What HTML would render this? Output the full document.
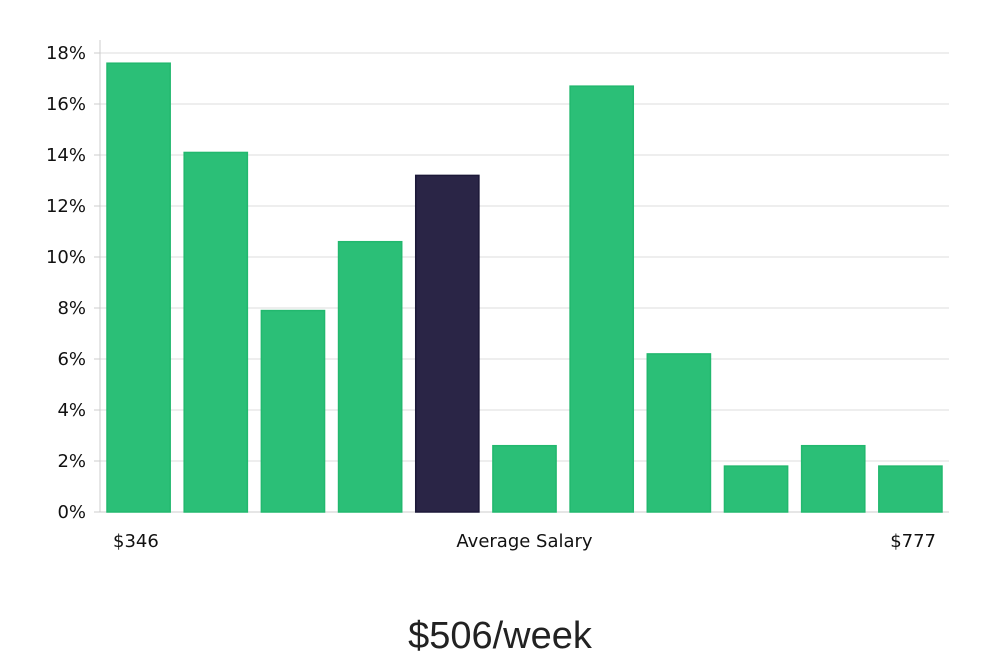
<!DOCTYPE html>
<html><head><meta charset="utf-8"><style>
body{margin:0;background:#fff;width:1000px;height:660px;overflow:hidden;font-family:"DejaVu Sans","Liberation Sans",sans-serif}
</style></head><body>
<svg width="1000" height="660" id="c">
<text x="500" y="648" text-anchor="middle" font-size="38" font-family="Liberation Sans, sans-serif" fill="#222">$506/week</text>
</svg>
<script>
const categories=["b1","b2","b3","b4","b5","b6","b7","b8","b9","b10","b11"];
const values=[17.6,14.1,7.9,10.6,13.2,2.6,16.7,6.2,1.8,2.6,1.8];
const highlight=[0,0,0,0,1,0,0,0,0,0,0];
const yTicks=[0,2,4,6,8,10,12,14,16,18];
const xLabels=[["$346",0,"start"],["Average Salary",5,"middle"],["$777",10,"end"]];
const svg=document.getElementById('c');const NS="http://www.w3.org/2000/svg";
const L=100,R=949,Y0=512,Y18=53;
const y=v=>Y0-(v/18)*(Y0-Y18);
const step=(R-L)/categories.length;
const x=i=>L+i*step+7;const bw=step-14;
function mk(t,a,p){const e=document.createElementNS(NS,t);for(const k in a)e.setAttribute(k,a[k]);(p||svg).appendChild(e);return e;}
yTicks.forEach(t=>{
const g=mk('line',{x1:L,x2:R,y1:y(t),y2:y(t),stroke:t?'#dcdcdc':'#ccc','stroke-width':1});


const tk=mk('line',{x1:L-6,x2:L,y1:y(t),y2:y(t),stroke:'#ccc'});


const tx=mk('text',{x:L-14,y:y(t)+6,'text-anchor':'end','font-size':18,fill:'#111'});tx.textContent=t+'%';


});
const ax=mk('line',{x1:L,x2:L,y1:40,y2:Y0,stroke:'#ccc'});


values.forEach((v,i)=>{
const h=highlight[i];
const b=mk('rect',{x:x(i),y:y(v),width:bw,height:Y0-y(v),fill:h?'#2a2546':'#2bbf77',stroke:h?'#1c1838':'#22b86e','stroke-width':1.5});


});
xLabels.forEach(([s,i,a])=>{
const px=a==='start'?x(i)+6:a==='end'?x(i)+bw-6:x(i)+bw/2;
const t=mk('text',{x:px,y:547,'text-anchor':a,'font-size':18,fill:'#111'});t.textContent=s;


});
</script>
</body></html>
